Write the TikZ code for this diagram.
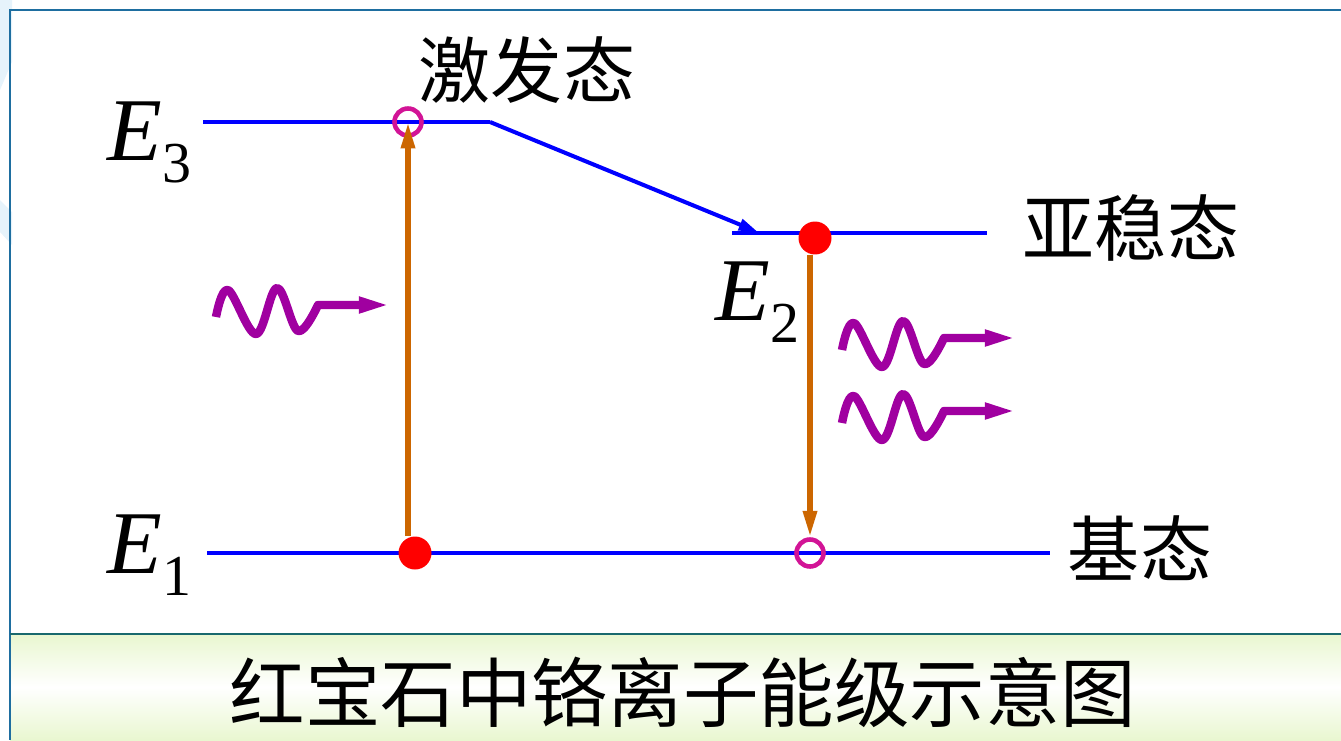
\documentclass[tikz,border=0pt]{standalone}
\usepackage{fontspec}
\setmainfont{Liberation Serif}
\newfontfamily\cjk{Noto Sans CJK SC}
\usetikzlibrary{arrows.meta,positioning,calc}
\definecolor{levelblue}{RGB}{0,0,255}
\definecolor{pumporange}{RGB}{204,102,0}
\definecolor{ringpink}{RGB}{210,20,150}
\definecolor{photonpurple}{RGB}{160,0,160}
\definecolor{frameblue}{RGB}{30,110,160}
\definecolor{frameteal}{RGB}{25,105,110}
\definecolor{softgreen}{RGB}{233,247,208}
\definecolor{softsky}{RGB}{230,243,251}
\newcommand\Elevel[1]{\textit{E}\raisebox{-13pt}{\upshape\fontsize{33}{33}\selectfont #1}}
\tikzset{
  photon/.pic={\draw[photonline] plot[smooth,tension=0.6] coordinates {(0,0) (12,-27) (40,17) (61,-29) (82,14) (102,-12)} -- (178,-12);}
}

\begin{document}
\begin{tikzpicture}[x=0.02cm,y=-0.02cm,
    levelline/.style={levelblue,line width=2.3pt},
    pump/.style={pumporange,line width=3.2pt,-{Triangle[length=15pt,width=7.5pt]}},
    decay/.style={levelblue,line width=2.3pt,-{Triangle[length=11pt,width=6.5pt]}},
    photonline/.style={photonpurple,line width=4.8pt,line join=round,-{Triangle[length=20pt,width=8pt]}},
    hole/.style={circle,draw=ringpink,line width=2.6pt,minimum size=0.54cm,inner sep=0pt},
    electron/.style={circle,fill=red,minimum size=0.66cm,inner sep=0pt},
    elabel/.style={inner sep=0pt,anchor=base west,font=\fontsize{51}{51}\selectfont},
    statelabel/.style={inner sep=0pt,font=\cjk\fontsize{41}{41}\selectfont},
    captionlabel/.style={inner sep=0pt,font=\cjk\fontsize{43}{43}\selectfont}]
  \useasboundingbox (0,0) rectangle (1341,740);
  % frame and caption band
  \fill[softsky] (0,0) -- (12,0) -- (12,62) -- (0,90) -- cycle;
  \fill[softsky] (0,200) -- (12,212) -- (12,245) -- (0,232) -- cycle;
  \shade[top color=softgreen,bottom color=softgreen,middle color=white] (10,634) rectangle (1341,740);
  \draw[frameblue,line width=1.6pt] (1341,10) -- (10,10) -- (10,740);
  \draw[frameteal,line width=1.6pt] (10,634) -- (1341,634);
  % energy levels
  \coordinate (e3L) at (203,122);
  \coordinate (e3R) at (490,122);
  \coordinate (e2L) at (732,233);
  \coordinate (e2R) at (987,233);
  \coordinate (e2tip) at (758,232);
  \coordinate (e1L) at (207,553);
  \coordinate (e1R) at (1050,553);
  \draw[levelline] (e3L) -- (e3R);
  \draw[levelline] (e2L) -- (e2R);
  \draw[levelline] (e1L) -- (e1R);
  \draw[decay] (e3R) -- (e2tip);
  % ions
  \node[hole] (ringA) at (408,122) {};
  \node[electron] (dotA) at (415,553) {};
  \node[electron] (dotB) at (815,238) {};
  \node[hole] (ringB) at (810,553) {};
  \draw[pump] (dotA.north -| ringA) -- (ringA.center);
  \draw[pump] (dotB.south -| ringB) -- (ringB.north);
  % photons
  \pic at (216,317) {photon};
  \pic at (842,350) {photon};
  \pic at (842,423) {photon};
  % labels
  \node[elabel] (E3) at (107,160) {\Elevel{3}};
  \node[elabel] (E2) at (715,320) {\Elevel{2}};
  \node[elabel] (E1) at (107,573) {\Elevel{1}};
  \node[statelabel] (excited) at (527,70) {激发态};
  \node[statelabel] (meta) at (1131,228) {亚稳态};
  \node[statelabel] (ground) at (1140,548) {基态};
  \node[captionlabel] (caption) at (683,692) {红宝石中铬离子能级示意图};
\end{tikzpicture}
\end{document}
